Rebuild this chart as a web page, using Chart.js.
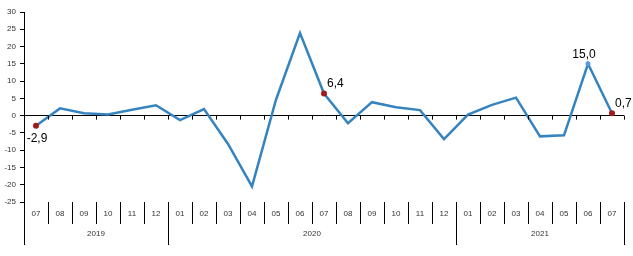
<!DOCTYPE html>
<html lang="en">
<head>
    <meta charset="UTF-8">
    <title>Monthly change</title>
    <script src="https://cdn.jsdelivr.net/npm/chart.js"></script>
    <style>
        body { margin: 0; background: #fff; }
    </style>
</head>
<body>
    <canvas id="chart" width="633" height="256"></canvas>

    <script>
        const months = ['07', '08', '09', '10', '11', '12',
            '01', '02', '03', '04', '05', '06', '07', '08', '09', '10', '11', '12',
            '01', '02', '03', '04', '05', '06', '07'];
        const years = ['2019', '2020', '2021'];
        const yearSpans = [6, 12, 7];   // months per year group
        const values = [-2.9, 2.1, 0.7, 0.3, 1.7, 3.0,
            -1.3, 1.9, -8.2, -20.5, 4.6, 23.9, 6.4, -2.2, 3.9, 2.4, 1.6, -6.8,
            0.3, 3.1, 5.2, -6.0, -5.7, 15.0, 0.7];
        const markedRed = [0, 12, 24];
        const markedBlue = [23];

        const labelPos = { 0: 'below', 12: 'right', 23: 'above', 24: 'right' };

        const fmt = v => v.toFixed(1).replace('.', ',');

        const axisPlugin = {
            id: 'axisPlugin',
            afterDraw(chart) {
                const ctx = chart.ctx;
                const x = chart.scales.x, y = chart.scales.y;
                const area = chart.chartArea;
                const n = months.length;
                const zero = y.getPixelForValue(0);
                const rowTop = area.bottom, rowMid = area.bottom + 22, rowBot = area.bottom + 43;

                const edge = i => {
                    if (i === 0) return area.left;
                    if (i === n) return area.right;
                    return (x.getPixelForValue(i - 1) + x.getPixelForValue(i)) / 2;
                };

                ctx.save();
                ctx.strokeStyle = '#000';
                ctx.lineWidth = 1;

                // zero line ticks
                ctx.beginPath();
                for (let i = 1; i <= n; i++) {
                    const px = Math.round(edge(i)) + 0.5;
                    ctx.moveTo(px, zero);
                    ctx.lineTo(px, zero + 4);
                }
                // category separators
                for (let i = 0; i <= n; i++) {
                    const px = Math.round(edge(i)) + 0.5;
                    ctx.moveTo(px, rowTop);
                    ctx.lineTo(px, rowMid);
                }
                // year separators
                let k = 0;
                const bounds = [0];
                yearSpans.forEach(s => { k += s; bounds.push(k); });
                bounds.forEach(b => {
                    const px = Math.round(edge(b)) + 0.5;
                    ctx.moveTo(px, rowMid);
                    ctx.lineTo(px, rowBot);
                });
                ctx.stroke();

                // month labels
                ctx.fillStyle = '#333';
                ctx.font = '8px "Liberation Sans", Arial, sans-serif';
                ctx.textAlign = 'center';
                ctx.textBaseline = 'middle';
                months.forEach((m, i) => {
                    ctx.fillText(m, x.getPixelForValue(i), rowTop + 12);
                });
                // year labels
                years.forEach((yr, j) => {
                    const cx = (edge(bounds[j]) + edge(bounds[j + 1])) / 2;
                    ctx.fillText(yr, cx, rowMid + 10);
                });

                // data labels
                const meta = chart.getDatasetMeta(0);
                ctx.fillStyle = '#000';
                ctx.font = '12px "Liberation Sans", Arial, sans-serif';
                Object.keys(labelPos).forEach(key => {
                    const i = Number(key);
                    const pt = meta.data[i];
                    const txt = fmt(values[i]);
                    const pos = labelPos[key];
                    if (pos === 'below') {
                        ctx.textAlign = 'center';
                        ctx.fillText(txt, pt.x + 1, pt.y + 13);
                    } else if (pos === 'above') {
                        ctx.textAlign = 'center';
                        ctx.fillText(txt, pt.x - 4, pt.y - 9);
                    } else {
                        ctx.textAlign = 'left';
                        ctx.fillText(txt, pt.x + 3, pt.y - 10);
                    }
                });
                ctx.restore();
            }
        };

        const pointColors = values.map((v, i) =>
            markedRed.includes(i) ? '#a31919' : (markedBlue.includes(i) ? '#5b9bd5' : 'rgba(0,0,0,0)'));
        const pointRadii = values.map((v, i) =>
            markedRed.includes(i) ? 3 : (markedBlue.includes(i) ? 2.5 : 0));

        new Chart(document.getElementById('chart'), {
            type: 'line',
            data: {
                labels: months,
                datasets: [{
                    data: values,
                    borderColor: '#3584c0',
                    borderWidth: 2.5,
                    tension: 0,
                    pointRadius: pointRadii,
                    pointBackgroundColor: pointColors,
                    pointBorderWidth: 0,
                    pointHoverRadius: 0
                }]
            },
            options: {
                responsive: false,
                animation: false,
                events: [],
                layout: { padding: { top: 12, right: 9, bottom: 54, left: 0 } },
                plugins: { legend: { display: false }, tooltip: { enabled: false } },
                scales: {
                    x: { display: false, offset: true },
                    y: {
                        min: -25,
                        max: 30,
                        afterFit: s => { s.width = 24; },
                        ticks: {
                            stepSize: 5,
                            color: '#333',
                            padding: 4,
                            font: { size: 8, family: '"Liberation Sans", Arial, sans-serif' }
                        },
                        grid: {
                            color: c => c.tick && c.tick.value === 0 ? '#000' : 'rgba(0,0,0,0)',
                            tickColor: '#000',
                            tickLength: 4,
                            lineWidth: 1
                        },
                        border: { display: true, color: '#000' }
                    }
                }
            },
            plugins: [axisPlugin]
        });
    </script>
</body>
</html>
